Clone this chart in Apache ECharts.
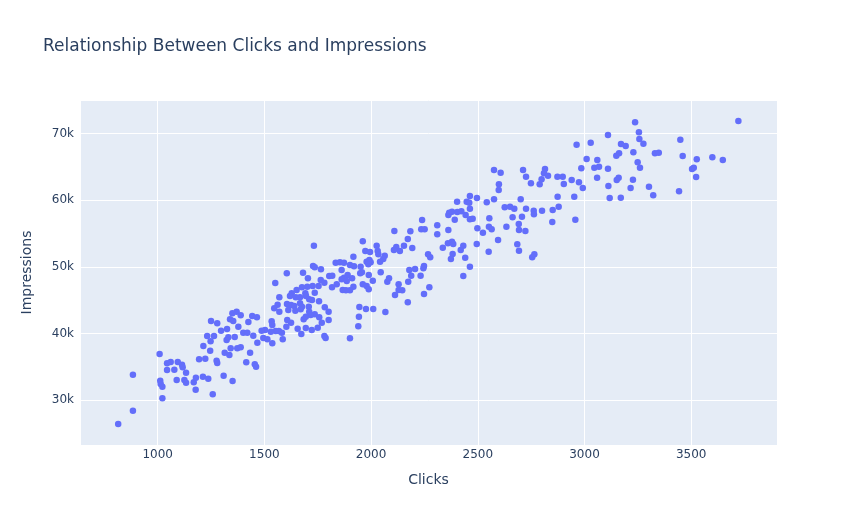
<!DOCTYPE html>
<html>
<head>
<meta charset="utf-8">
<script src="https://cdn.jsdelivr.net/npm/echarts@6/dist/echarts.min.js"></script>
<style>
html,body{margin:0;padding:0;background:#fff;}
#chart{width:857px;height:525px;}
</style>
</head>
<body>
<div id="chart"></div>
<script>
const chartTitle = "Relationship Between Clicks and Impressions";
const xAxisTitle = "Clicks";
const yAxisTitle = "Impressions";

const clicks = [
815,884,884,1022,1009,1012,1014,1022,1044,1061,1044,1078,1094,1114,1117,1133,1089,1125,1133,1169,
1179,1178,1212,1237,1258,1194,1223,1246,1214,1276,1279,1309,1351,1314,1336,1342,1323,1331,1232,1264,
1248,1361,1373,1389,1433,1415,1455,1461,1467,1448,1401,1420,1297,
1728,1736,1765,1605,1681,1704,1764,1781,1804,1551,1754,1726,1701,1676,1651,1628,1620,1692,1736,1570,
1710,1723,1756,1695,1667,1647,1562,1546,1570,1606,1625,1640,1667,1676,1708,1612,1645,1670,1710,1736,
1717,1783,1801,1684,1694,1757,1769,1801,1607,1625,1534,1537,1603,1656,1694,1673,1722,1750,1781,1787,
1568,1582,1553,1530,1503,1487,1495,1514,1537,1586,
1250,1279,1325,1339,1350,1370,1389,1354,1378,1425,1443,1465,
1732,1961,2109,2184,2172,2154,2118,2107,2135,2193,2026,1973,1995,2031,2034,2064,2057,1917,1992,1979,
1998,1987,2042,1834,1854,1873,1901,1920,1951,1862,1949,1957,1989,2045,1818,1873,1890,1911,1862,1886,
1839,1817,1867,1882,1917,1901,1961,1979,1989,2008,2076,2084,2129,2129,2146,2112,2174,2188,2179,2206,
2248,2172,1945,1976,2010,2067,1943,1940,1901,
2576,2607,2599,2598,2712,2726,2749,2790,2463,2448,2460,2496,2403,2463,2542,2576,2626,2651,2671,2701,
2726,2762,2763,2366,2362,2379,2404,2423,2443,2392,2463,2476,2554,2552,2565,2498,2524,2663,2707,2692,
2693,2723,2634,2595,2551,2495,2239,2235,2251,2310,2310,2362,2360,2379,2385,2336,2432,2420,2382,2374,
2441,2267,2277,2463,2432,2248,2245,2232,2273,2685,2693,2755,2765,
3237,3255,3257,3276,3110,3029,2963,3171,3193,3162,3149,3229,3249,3260,3330,3348,3010,3060,3046,3068,
2985,3110,2815,2810,2829,2799,2873,2898,2903,2940,2974,2992,3059,3160,3151,3227,3112,3216,3118,3170,
3302,3322,2874,2952,2879,2851,2801,2849,2957,
3721,3449,3460,3526,3599,3648,3504,3512,3523,3443
];

const impressions = [
26400,28390,33800,30260,36910,32900,32400,32000,35510,35710,34510,34550,35710,35300,34910,34100,33000,33000,32600,32660,
33350,31550,33500,33200,30860,36110,36200,37400,38110,35900,35560,33650,32850,37100,36760,37760,39010,39410,39610,39610,
38810,39460,37760,37910,37100,35660,35360,35000,38600,39660,40110,40110,40410,
50120,49930,49630,49020,49110,48270,48020,47610,48620,47570,47120,47120,47010,46920,46520,46020,45620,46020,46110,45420,
45120,45020,44820,45620,45420,45420,44310,43770,43260,44410,44260,44110,44520,44010,44010,43510,43410,43620,43260,42870,
42760,43920,43260,42120,42510,42420,41610,42010,42010,41610,41820,41260,41010,40710,40810,39910,40510,40860,39610,39310,
40360,40110,40360,40260,40510,40410,39310,39110,38510,39110,
41860,41520,40660,42120,43020,43260,42720,41860,41010,41710,42610,42420,
53170,53830,55380,55330,54170,53170,52970,52520,52370,52820,53170,52370,52220,52370,51880,51670,51170,51520,51020,50770,
50680,50380,50770,50620,50680,50620,50270,50080,50020,49520,49020,49170,48770,49170,48660,48360,48770,48270,48120,47870,
47370,46920,46520,46470,47010,46470,47370,47120,46620,47910,47760,48270,47370,46520,46470,45770,47760,48660,49520,49670,
45920,44670,43960,43660,43660,43210,42510,41070,39260,
64540,64130,62390,61530,64540,63530,62540,62390,60630,59780,59630,60330,59780,58720,59690,60140,58930,59020,58720,60140,
58720,58420,57880,58120,57780,58270,58230,58330,57780,57070,57130,57220,57280,56020,55630,55780,55120,57430,57520,56430,
55530,55380,56020,54020,52270,53420,57030,55630,55630,56230,54880,55530,53530,53770,53420,52870,53170,52520,51920,51170,
51370,51880,51430,50020,48620,50120,49780,48660,46920,53380,52420,51430,51880,
71700,70200,69190,68480,69790,68630,68330,68440,68140,67040,66680,67190,65690,64880,67040,67130,66190,66040,64880,65030,
64790,64730,64690,64040,63680,63140,63530,63530,62430,63030,62690,61830,63380,63380,63030,63080,62130,61830,60330,60380,
62030,60740,60530,60530,59020,58530,58420,56730,57070,
71890,69080,66640,66140,66440,66040,64690,64880,63480,61340
];

const xRange = [636, 3902];
const yRange = [23240, 75050];

const points = clicks.map((c, i) => [c, impressions[i]]);

const textColor = '#2a3f5f';
const font = '"DejaVu Sans", Verdana, sans-serif';

const chart = echarts.init(document.getElementById('chart'), null, {renderer: 'canvas'});
chart.setOption({
  animation: false,
  backgroundColor: '#ffffff',
  title: {
    text: chartTitle,
    left: 38,
    top: 33,
    textStyle: {color: textColor, fontSize: 17, fontWeight: 'normal', fontFamily: font}
  },
  grid: {
    left: 80, right: 80, top: 100, bottom: 80,
    show: true, backgroundColor: '#E5ECF6', borderWidth: 0
  },
  xAxis: {
    type: 'value',
    min: xRange[0], max: xRange[1],
    name: xAxisTitle,
    nameLocation: 'middle',
    nameGap: 28,
    nameTextStyle: {color: textColor, fontSize: 14, fontFamily: font},
    axisLine: {show: false},
    axisTick: {show: false},
    axisLabel: {
      color: textColor, fontSize: 12, fontFamily: font, margin: 4,
      showMinLabel: false, showMaxLabel: false,
      formatter: v => String(v)
    },
    splitLine: {show: true, lineStyle: {color: '#ffffff', width: 1}}
  },
  yAxis: {
    type: 'value',
    min: yRange[0], max: yRange[1],
    name: yAxisTitle,
    nameLocation: 'middle',
    nameGap: 46,
    nameTextStyle: {color: textColor, fontSize: 14, fontFamily: font},
    axisLine: {show: false},
    axisTick: {show: false},
    axisLabel: {
      color: textColor, fontSize: 12, fontFamily: font, margin: 6,
      showMinLabel: false, showMaxLabel: false,
      formatter: v => (v / 1000) + 'k'
    },
    splitLine: {show: true, lineStyle: {color: '#ffffff', width: 1}}
  },
  series: [{
    type: 'scatter',
    data: points,
    symbolSize: 6.5,
    itemStyle: {color: '#636efa', opacity: 1}
  }]
});
</script>
</body>
</html>
